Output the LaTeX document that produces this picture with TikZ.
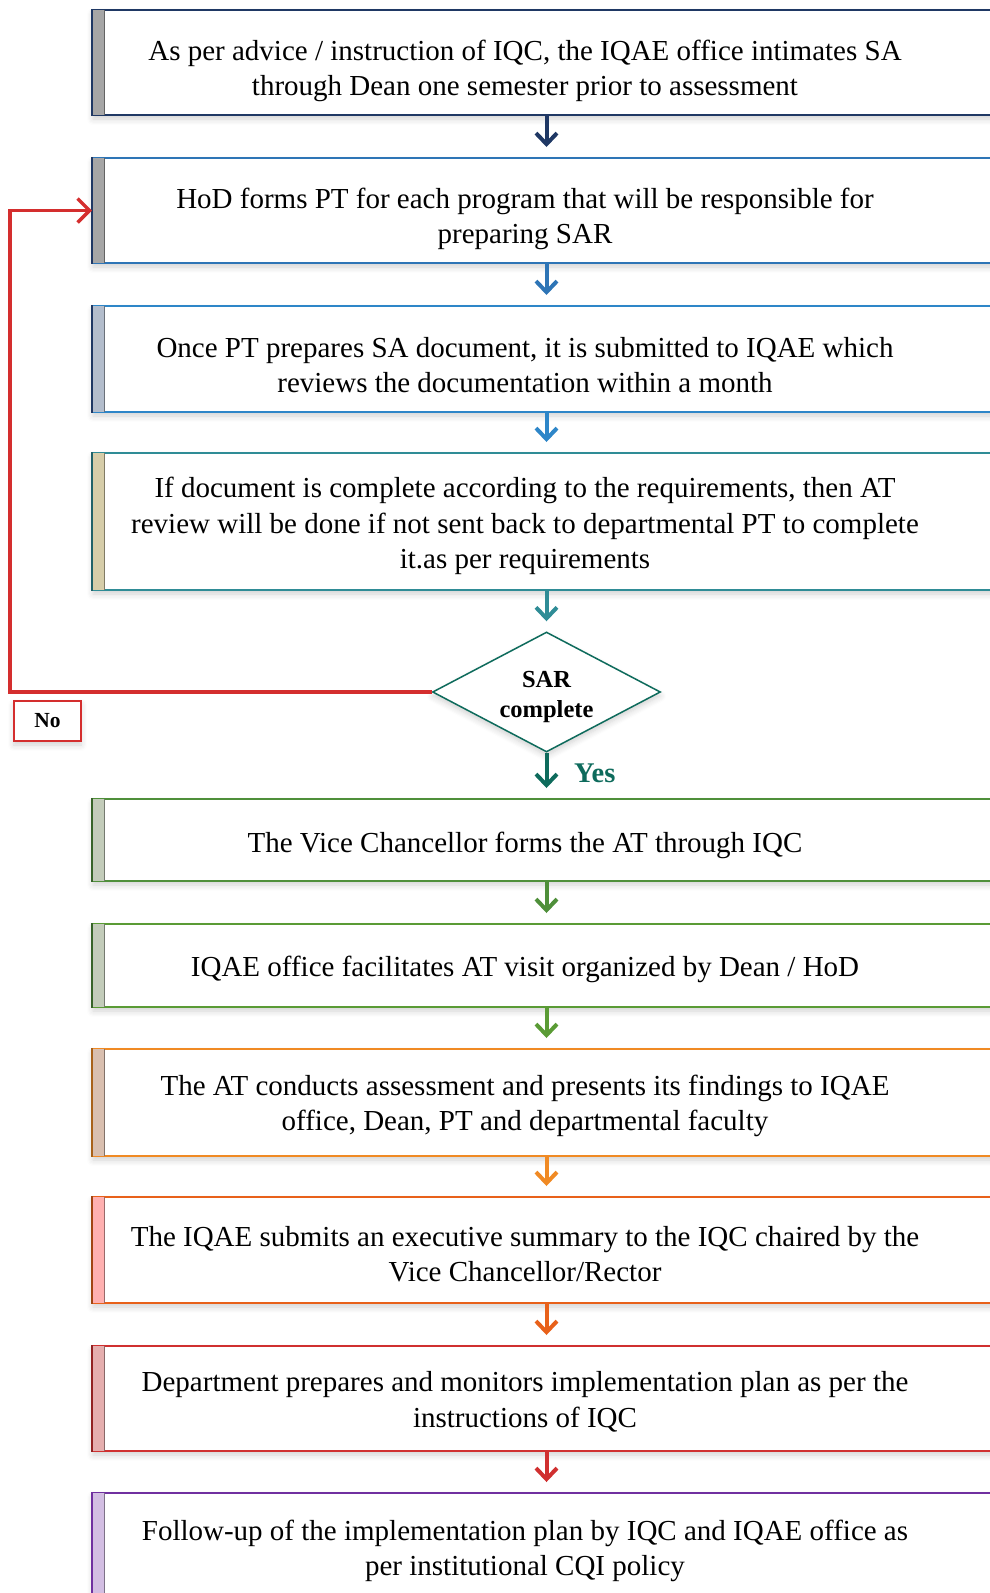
\documentclass[tikz,border=0pt]{standalone}
\usepackage{fontspec}
\setmainfont{Liberation Serif}
\usetikzlibrary{shapes.geometric,arrows.meta,calc,shadows.blur}
\definecolor{c1}{HTML}{1F3864}
\definecolor{c2}{HTML}{2E75B6}
\definecolor{c3}{HTML}{2E86C8}
\definecolor{c4}{HTML}{2F8C96}
\definecolor{cd}{HTML}{0E6B5C}
\definecolor{c5}{HTML}{4F8F3A}
\definecolor{c6}{HTML}{5A9B35}
\definecolor{c7}{HTML}{F08A24}
\definecolor{c8}{HTML}{E8611A}
\definecolor{c9}{HTML}{D03030}
\definecolor{c10}{HTML}{7030A0}
\definecolor{cred}{HTML}{D42E2E}
\definecolor{k1}{HTML}{A6A6A6}
\definecolor{k3}{HTML}{B3BDCC}
\definecolor{k4}{HTML}{D6CDA9}
\definecolor{k5}{HTML}{C3CCBA}
\definecolor{k7}{HTML}{D9BFAF}
\definecolor{k8}{HTML}{FFB0B0}
\definecolor{k9}{HTML}{E5AEAE}
\definecolor{k10}{HTML}{D3BEE3}
\tikzset{
  softshadow/.style={blur shadow={shadow xshift=0pt, shadow yshift=-4pt, shadow blur radius=6pt, shadow blur steps=6, shadow opacity=18}},
  flowbox/.style={draw=#1, line width=2pt, fill=white, minimum width=907pt, inner sep=0pt, softshadow},
  txt/.style={align=center, font=\fontsize{29}{35.6}\selectfont, inner sep=0pt},
  arr/.style={draw=#1, line width=4pt, -{Straight Barb[length=11pt,width=21pt]}, shorten >=10pt},
}
\newcommand{\sidebar}[3]{%
  \fill[#3] ($(#1.north west)+(1,1)$) rectangle ($(#1.south west)+(12,-1)$);
  \draw[#3!60!black, line width=1pt] ($(#1.north west)+(12,1)$) -- ($(#1.south west)+(12,-1)$);
  \draw[#2, line width=2.5pt] (#1.north west) -- (#1.south west);}
\begin{document}
\begin{tikzpicture}[x=1pt,y=-1pt]
\useasboundingbox (0,0) rectangle (989,1593);

\node[flowbox=c1, minimum height=105pt] (b1) at (546.5,62.5) {};
\node[flowbox=c2, minimum height=105pt] (b2) at (546.5,210.5) {};
\node[flowbox=c3, minimum height=106pt] (b3) at (546.5,359) {};
\node[flowbox=c4, minimum height=137pt] (b4) at (546.5,521.5) {};
\node[flowbox=c5, minimum height=82pt] (b5) at (546.5,840) {};
\node[flowbox=c6, minimum height=83pt] (b6) at (546.5,965.5) {};
\node[flowbox=c7, minimum height=107pt] (b7) at (546.5,1102.5) {};
\node[flowbox=c8, minimum height=106pt] (b8) at (546.5,1250) {};
\node[flowbox=c9, minimum height=105pt] (b9) at (546.5,1398.5) {};
\node[flowbox=c10, minimum height=127pt] (b10) at (546.5,1556.5) {};

\sidebar{b1}{c1}{k1}
\sidebar{b2}{c1}{k1}
\sidebar{b3}{c1}{k3}
\sidebar{b4}{c4!70!black}{k4}
\sidebar{b5}{c5!70!black}{k5}
\sidebar{b6}{c5!70!black}{k5}
\sidebar{b7}{c7!70!black}{k7}
\sidebar{b8}{c8!70!black}{k8}
\sidebar{b9}{c9!70!black}{k9}
\sidebar{b10}{c10}{k10}

\node[txt] (t1) at (525,71) {As per advice / instruction of IQC, the IQAE office intimates SA\\through Dean one semester prior to assessment};
\node[txt] (t2) at (525,219) {HoD forms PT for each program that will be responsible for\\preparing SAR};
\node[txt] (t3) at (525,365) {Once PT prepares SA document, it is submitted to IQAE which\\reviews the documentation within a month};
\node[txt] (t4) at (525,526) {If document is complete according to the requirements, then AT\\review will be done if not sent back to departmental PT to complete\\it.as per requirements};
\node[txt] (t5) at (525,845) {The Vice Chancellor forms the AT through IQC};
\node[txt] (t6) at (525,969) {IQAE office facilitates AT visit organized by Dean / HoD};
\node[txt] (t7) at (525,1106) {The AT conducts assessment and presents its findings to IQAE\\office, Dean, PT and departmental faculty};
\node[txt] (t8) at (525,1254) {The IQAE submits an executive summary to the IQC chaired by the\\Vice Chancellor/Rector};
\node[txt] (t9) at (525,1402) {Department prepares and monitors implementation plan as per the\\instructions of IQC};
\node[txt] (t10) at (525,1551) {Follow-up of the implementation plan by IQC and IQAE office as\\per institutional CQI policy};

\node[diamond, shape aspect=2, draw=cd, line width=1.5pt, fill=white, softshadow, minimum width=228pt, minimum height=120pt, inner sep=0pt] (d) at (546.5,692) {};
\node[align=center, inner sep=0pt, font=\bfseries\fontsize{24.5}{30.5}\selectfont] (dt) at (546.5,697) {SAR\\complete};
\node[anchor=west, text=cd, inner sep=0pt, font=\bfseries\fontsize{28.5}{30}\selectfont] (yes) at (574,773) {Yes};
\node[draw=cred, line width=2pt, fill=white, softshadow, minimum width=67pt, minimum height=40pt, inner sep=0pt, font=\bfseries\fontsize{21.5}{24}\selectfont] (no) at (47.5,721) {No};

\draw[arr=c1] (b1.south) -- (b2.north);
\draw[arr=c2] (b2.south) -- (b3.north);
\draw[arr=c3] (b3.south) -- (b4.north);
\draw[arr=c4] (b4.south) -- (d.north);
\draw[arr=cd] (d.south) -- (b5.north);
\draw[arr=c5] (b5.south) -- (b6.north);
\draw[arr=c6] (b6.south) -- (b7.north);
\draw[arr=c7] (b7.south) -- (b8.north);
\draw[arr=c8] (b8.south) -- (b9.north);
\draw[arr=c9] (b9.south) -- (b10.north);

\coordinate (r1) at (10,692);
\coordinate (r2) at (10,210.5);
\draw[cred, line width=3.5pt, -{Straight Barb[length=12pt,width=24pt]}] (d.west) -- (r1) -- (r2) -- (b2.west);
\end{tikzpicture}
\end{document}
